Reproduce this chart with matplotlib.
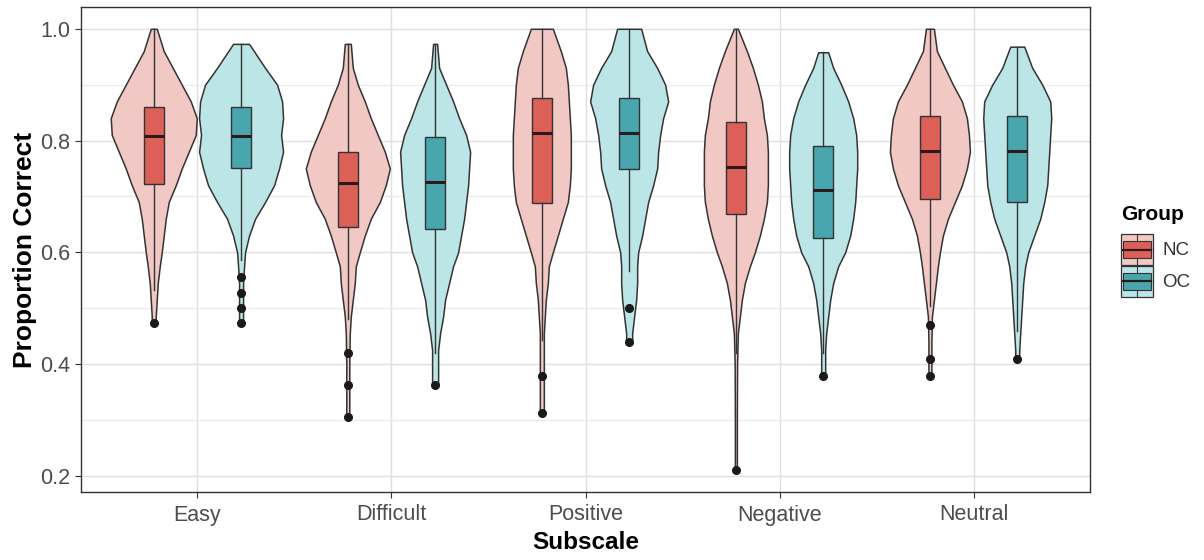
import numpy as np
import matplotlib
matplotlib.use("Agg")
import matplotlib.pyplot as plt
from matplotlib.patches import Rectangle
from matplotlib.lines import Line2D
from matplotlib.legend_handler import HandlerBase

plt.rcParams['font.family'] = ['Liberation Sans', 'DejaVu Sans']

# categories / groups
subscales = ["Easy", "Difficult", "Positive", "Negative", "Neutral"]
groups = ["NC", "OC"]

# violin outlines: (proportion, half-width density)
violin_easy_nc = [(1.00, 3), (0.96, 10), (0.93, 19), (0.90, 28), (0.87, 37), (0.84, 43), (0.81, 42),
                  (0.78, 35), (0.75, 28), (0.72, 22), (0.69, 15), (0.66, 12), (0.63, 10), (0.60, 8),
                  (0.575, 6), (0.545, 4), (0.515, 3), (0.485, 2), (0.475, 2)]
violin_easy_oc = [(0.973, 8), (0.93, 24), (0.90, 36), (0.87, 41), (0.84, 42), (0.81, 40), (0.78, 42),
                  (0.75, 38), (0.72, 33), (0.69, 24), (0.66, 14), (0.63, 8), (0.60, 4), (0.575, 3),
                  (0.545, 2), (0.515, 2), (0.485, 2), (0.474, 2)]
violin_difficult_nc = [(0.973, 3), (0.93, 5), (0.90, 10), (0.87, 17), (0.84, 23), (0.81, 30), (0.78, 37),
                       (0.75, 42), (0.72, 38), (0.69, 32), (0.66, 23), (0.63, 17), (0.60, 12), (0.575, 8),
                       (0.545, 7), (0.515, 5), (0.485, 3), (0.455, 2), (0.40, 1.5), (0.35, 1.5), (0.306, 1.5)]
violin_difficult_oc = [(0.973, 2), (0.93, 4), (0.90, 11), (0.87, 18), (0.84, 24), (0.81, 31), (0.78, 35),
                       (0.75, 34), (0.72, 33), (0.69, 31), (0.66, 29), (0.63, 26), (0.60, 23), (0.575, 18),
                       (0.545, 14), (0.515, 10), (0.485, 8), (0.455, 5), (0.425, 3), (0.395, 3), (0.363, 3)]
violin_positive_nc = [(1.00, 11), (0.96, 19), (0.93, 24), (0.90, 26), (0.87, 27), (0.84, 28), (0.81, 29),
                      (0.78, 29), (0.75, 29), (0.72, 28), (0.69, 26), (0.66, 21), (0.63, 16), (0.60, 11),
                      (0.575, 7), (0.545, 6), (0.515, 4), (0.485, 3), (0.455, 2), (0.40, 2), (0.35, 2), (0.312, 2)]
violin_positive_oc = [(1.00, 12), (0.96, 18), (0.93, 28), (0.90, 36), (0.87, 39), (0.84, 34), (0.81, 31),
                      (0.78, 29), (0.75, 28), (0.72, 24), (0.69, 19), (0.66, 16), (0.63, 13), (0.60, 9),
                      (0.575, 8), (0.545, 8), (0.515, 7), (0.485, 5), (0.455, 3), (0.437, 3)]
violin_negative_nc = [(1.00, 2), (0.96, 11), (0.93, 17), (0.90, 22), (0.87, 26), (0.84, 28), (0.81, 31),
                      (0.78, 32), (0.75, 32), (0.72, 32), (0.69, 31), (0.66, 28), (0.63, 24), (0.60, 19),
                      (0.575, 14), (0.545, 9), (0.515, 6), (0.485, 4), (0.455, 2), (0.40, 1.2), (0.30, 1), (0.211, 1)]
violin_negative_oc = [(0.958, 5), (0.93, 10), (0.90, 18), (0.87, 25), (0.84, 30), (0.81, 33), (0.78, 34),
                      (0.75, 34), (0.72, 33), (0.69, 32), (0.66, 30), (0.63, 27), (0.60, 22), (0.575, 15),
                      (0.545, 10), (0.515, 7), (0.485, 5), (0.455, 3), (0.425, 2), (0.395, 2), (0.378, 2)]
violin_neutral_nc = [(1.00, 4), (0.96, 7), (0.93, 15), (0.90, 23), (0.87, 32), (0.84, 37), (0.81, 39),
                     (0.78, 40), (0.75, 37), (0.72, 32), (0.69, 25), (0.66, 18), (0.63, 13), (0.60, 10),
                     (0.575, 8), (0.545, 6), (0.515, 4), (0.485, 2), (0.44, 1.5), (0.40, 1.5), (0.378, 1.5)]
violin_neutral_oc = [(0.968, 7), (0.93, 15), (0.90, 25), (0.87, 33), (0.84, 34), (0.81, 33), (0.78, 32),
                     (0.75, 31), (0.72, 30), (0.69, 27), (0.66, 23), (0.63, 17), (0.60, 11), (0.575, 8),
                     (0.545, 6), (0.515, 5), (0.485, 4), (0.455, 3), (0.425, 2), (0.409, 2)]

violins_nc = [violin_easy_nc, violin_difficult_nc, violin_positive_nc, violin_negative_nc, violin_neutral_nc]
violins_oc = [violin_easy_oc, violin_difficult_oc, violin_positive_oc, violin_negative_oc, violin_neutral_oc]

# boxplot stats
nc_q1 = [0.723, 0.645, 0.689, 0.669, 0.696]
nc_med = [0.808, 0.724, 0.813, 0.752, 0.782]
nc_q3 = [0.860, 0.779, 0.876, 0.834, 0.844]
nc_whislo = [0.533, 0.48, 0.443, 0.42, 0.503]
nc_whishi = [1.0, 0.973, 1.0, 1.0, 1.0]
nc_fliers = [[0.474], [0.420, 0.363, 0.306], [0.378, 0.313], [0.211], [0.470, 0.409, 0.378]]

oc_q1 = [0.751, 0.641, 0.749, 0.625, 0.690]
oc_med = [0.808, 0.725, 0.813, 0.711, 0.782]
oc_q3 = [0.860, 0.807, 0.876, 0.791, 0.844]
oc_whislo = [0.587, 0.42, 0.566, 0.42, 0.46]
oc_whishi = [0.973, 0.973, 1.0, 0.958, 0.968]
oc_fliers = [[0.556, 0.528, 0.500, 0.474], [0.363], [0.500, 0.439], [0.378], [0.409]]

light = {"NC": "#F2C8C4", "OC": "#BCE5E7"}
dark = {"NC": "#DC6058", "OC": "#49A6AE"}
edge = "#333333"
unit = 1 / 194.0  # density read in pixels -> x units
dodge = 0.225

fig = plt.figure(figsize=(12.04, 5.6), dpi=100)
ax = fig.add_axes([81 / 1204, 68 / 560, 1009 / 1204, 485 / 560])

xs = np.arange(1, len(subscales) + 1)

for g, sign, viols, q1, med, q3, wlo, whi, fl in [
        ("NC", -1, violins_nc, nc_q1, nc_med, nc_q3, nc_whislo, nc_whishi, nc_fliers),
        ("OC", 1, violins_oc, oc_q1, oc_med, oc_q3, oc_whislo, oc_whishi, oc_fliers)]:
    pos = xs + sign * dodge
    vstats = []
    widths = []
    for v in viols:
        yy = np.array([p[0] for p in v])
        dd = np.array([p[1] for p in v], dtype=float)
        vstats.append(dict(coords=yy, vals=dd, mean=dd.mean(), median=np.median(yy),
                           min=yy.min(), max=yy.max()))
        widths.append(2 * dd.max() * unit)
    parts = ax.violin(vstats, positions=pos, widths=widths, showmeans=False,
                      showextrema=False, showmedians=False)
    for b in parts['bodies']:
        b.set_facecolor(light[g])
        b.set_edgecolor(edge)
        b.set_linewidth(1.1)
        b.set_alpha(1)
        b.set_zorder(2)

    bstats = []
    for i in range(len(subscales)):
        bstats.append(dict(q1=q1[i], med=med[i], q3=q3[i], whislo=wlo[i], whishi=whi[i], fliers=fl[i]))
    ax.bxp(bstats, positions=pos, widths=0.105, patch_artist=True, showcaps=False,
           boxprops=dict(facecolor=dark[g], edgecolor=edge, linewidth=1.0),
           whiskerprops=dict(color=edge, linewidth=1.0),
           medianprops=dict(color="#2a1a1a", linewidth=2.2),
           flierprops=dict(marker='o', markerfacecolor='#1a1a1a', markeredgecolor='#1a1a1a',
                           markersize=5.5),
           zorder=3, manage_ticks=False)

ax.set_xlim(0.4, 5.6)
ax.set_ylim(0.171, 1.039)
ax.set_xticks(xs)
ax.set_xticklabels(subscales)
ax.set_yticks([0.2, 0.4, 0.6, 0.8, 1.0])
ax.set_yticklabels(["0.2", "0.4", "0.6", "0.8", "1.0"])
ax.set_yticks([0.3, 0.5, 0.7, 0.9], minor=True)
ax.grid(True, which='major', color='#E0E0E0', linewidth=1.0)
ax.grid(True, which='minor', axis='y', color='#EAEAEA', linewidth=0.8)
ax.set_axisbelow(True)
ax.tick_params(axis='both', which='major', labelsize=15.5, labelcolor='#4D4D4D', color='#333333',
               length=4, width=0.8)
ax.tick_params(axis='x', which='major', pad=5)
ax.tick_params(axis='y', which='major', pad=4)
ax.tick_params(axis='y', which='minor', length=0)
for s in ax.spines.values():
    s.set_color('#333333')
    s.set_linewidth(1.0)

ax.set_xlabel("Subscale", fontsize=17.5, fontweight='bold', labelpad=4)
ax.set_ylabel("Proportion Correct", fontsize=19, fontweight='bold', labelpad=2)


class GroupKey:
    def __init__(self, g):
        self.g = g


class GroupKeyHandler(HandlerBase):
    def create_artists(self, legend, orig, xd, yd, w, h, fontsize, trans):
        x0, y0 = -xd, -yd
        g = orig.g
        bg = Rectangle((x0, y0), w, h, facecolor=light[g], edgecolor=edge, lw=0.9, transform=trans)
        box = Rectangle((x0 + 0.07 * w, y0 + 0.23 * h), 0.86 * w, 0.54 * h, facecolor=dark[g],
                        edgecolor=edge, lw=0.8, transform=trans)
        med = Line2D([x0 + 0.07 * w, x0 + 0.93 * w], [y0 + h / 2] * 2, color="#2a1a1a", lw=1.6,
                     transform=trans)
        wt = Line2D([x0 + w / 2] * 2, [y0 + 0.77 * h, y0 + h], color=edge, lw=0.8, transform=trans)
        wb = Line2D([x0 + w / 2] * 2, [y0, y0 + 0.23 * h], color=edge, lw=0.8, transform=trans)
        return [bg, wt, wb, box, med]


fig.text(1121 / 1204, 1 - 215 / 560, "Group", fontsize=15, fontweight='bold', va='center', ha='left')

handles = [GroupKey(g) for g in groups]
leg = fig.legend(handles, groups, handler_map={GroupKey: GroupKeyHandler()},
                 loc='upper left', bbox_to_anchor=(1121 / 1204, 1 - 234 / 560),
                 frameon=False, fontsize=13.5, handlelength=1.71, handleheight=2.17,
                 labelspacing=0.05, handletextpad=0.5, borderaxespad=0, borderpad=0)
for t in leg.get_texts():
    t.set_color('#333333')

fig.savefig("out.png", dpi=100)
